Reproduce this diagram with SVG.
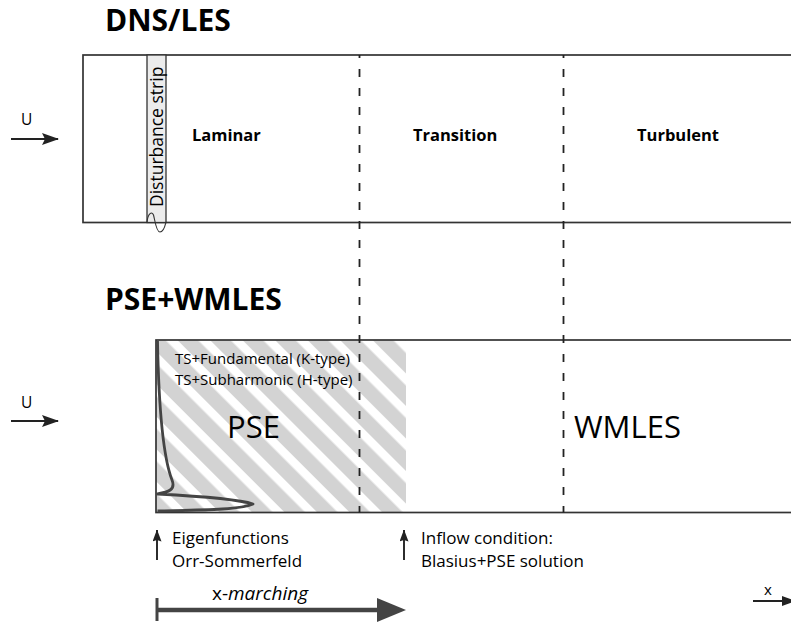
<svg xmlns="http://www.w3.org/2000/svg" width="791" height="624" viewBox="0 0 791 624">
<defs>
<style>
.box{fill:none;stroke:#333;stroke-width:1.7}
.dash{fill:none;stroke:#222;stroke-width:1.8;stroke-dasharray:8 11;stroke-dashoffset:5}
.t{font-family:"Open Sans","Noto Sans","Liberation Sans",sans-serif;fill:#000}
.ln{stroke:#222;stroke-width:1.9;fill:none}
.title{font-size:30px;font-weight:bold}
.lab{font-size:16.5px;font-weight:bold}
.sm{font-size:17px}
</style>
<pattern id="hatch" patternUnits="userSpaceOnUse" width="23" height="23" patternTransform="rotate(-45)">
<rect x="0" y="0" width="14.5" height="23" fill="#d3d3d3"/>
</pattern>
<marker id="ah" viewBox="0 0 17 12" refX="16" refY="6" markerWidth="17" markerHeight="12" markerUnits="userSpaceOnUse" orient="auto">
<path d="M0,0 L17,6 L0,12 L3,6 z" fill="#222"/>
</marker>
<marker id="ahs" viewBox="0 0 12 9" refX="11.5" refY="4.5" markerWidth="12" markerHeight="9" markerUnits="userSpaceOnUse" orient="auto">
<path d="M0,0 L12,4.5 L0,9 L1.5,4.5 z" fill="#222"/>
</marker>
</defs>
<rect width="791" height="624" fill="#fff"/>

<g id="title-dns">
<text class="t title" x="105" y="31">DNS/LES</text>
</g>
<g id="title-pse">
<text class="t title" x="105" y="310">PSE+WMLES</text>
</g>

<g id="dns-box">
<rect x="83" y="55" width="720" height="167.5" fill="#fff" class="box"/>
<text class="t lab" x="192" y="141">Laminar</text>
<text class="t lab" x="413" y="141">Transition</text>
<text class="t lab" x="637" y="141">Turbulent</text>
</g>

<g id="disturbance-strip">
<rect x="147" y="55" width="19" height="167.5" fill="#ececec" stroke="#333" stroke-width="1.3"/>
<text class="t" font-size="17.5" transform="translate(162.5,207) rotate(-90)">Disturbance strip</text>
<path d="M147,222 C148,213 152,211 153.5,215 C155,220 156,232 160,232 C164,232 165,226 166,222" fill="none" stroke="#333" stroke-width="1.1"/>
</g>

<g id="pse-box">
<rect x="156" y="340" width="250" height="172.5" fill="url(#hatch)"/>
<rect x="156" y="340" width="650" height="172.5" class="box"/>
<path d="M157.5,341 C159,420 165,462 172,480 C176,490 168,492 157.5,494 C195,496 238,499 253,504 C240,510 198,510 157.5,511" fill="none" stroke="#444" stroke-width="2.8" stroke-linejoin="round"/>
<text class="t" font-size="15" x="175" y="364">TS+Fundamental (K-type)</text>
<text class="t" font-size="15" x="175" y="385">TS+Subharmonic (H-type)</text>
<text class="t" font-size="31" x="227" y="438">PSE</text>
<text class="t" font-size="31" x="574" y="438">WMLES</text>
</g>

<g id="annotations">
<text class="t" font-size="15.5" x="21" y="125">U</text>
<text class="t" font-size="15.5" x="21" y="408">U</text>
<text class="t sm" x="172" y="544">Eigenfunctions</text>
<text class="t sm" x="172" y="567">Orr-Sommerfeld</text>
<text class="t sm" x="421" y="544">Inflow condition:</text>
<text class="t sm" x="421" y="567">Blasius+PSE solution</text>
<text class="t" font-size="19" x="212" y="600">x-<tspan font-style="italic">marching</tspan></text>
<text class="t" font-size="15" x="764" y="595">x</text>
</g>

<g id="connectors">
<line class="dash" x1="359.5" y1="55" x2="359.5" y2="512.5"/>
<line class="dash" x1="563.5" y1="55" x2="563.5" y2="512.5"/>
<line class="ln" x1="11" y1="139" x2="58" y2="139" marker-end="url(#ah)"/>
<line class="ln" x1="11" y1="421" x2="58" y2="421" marker-end="url(#ah)"/>
<line class="ln" x1="157" y1="560" x2="157" y2="530" stroke-width="2.6" marker-end="url(#ahs)"/>
<line class="ln" x1="404" y1="560" x2="404" y2="530" stroke-width="2.6" marker-end="url(#ahs)"/>
<line x1="157" y1="598" x2="157" y2="621" stroke="#444" stroke-width="3"/>
<line x1="157" y1="610" x2="382" y2="610" stroke="#444" stroke-width="4.5"/>
<polygon points="377,598 406,610 377,622" fill="#444"/>
<line class="ln" x1="753" y1="601" x2="786" y2="601"/>
<polygon points="782,596 796,601 782,606" fill="#222"/>
</g>
</svg>
